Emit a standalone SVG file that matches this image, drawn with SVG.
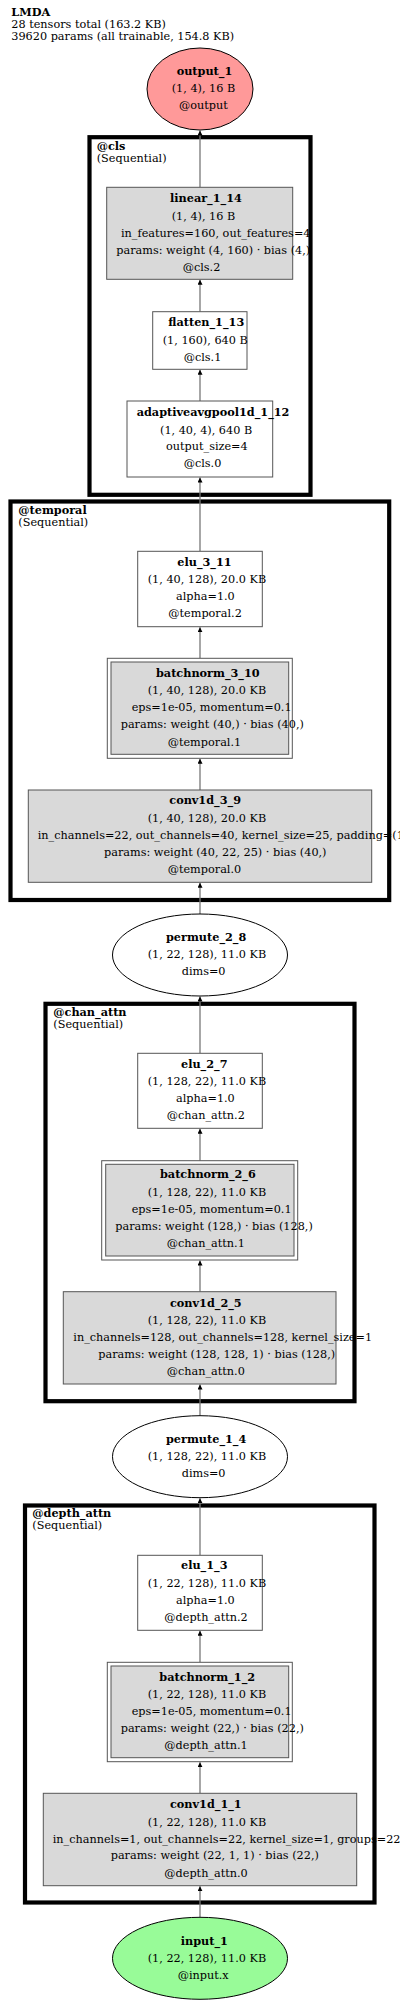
<svg xmlns="http://www.w3.org/2000/svg" width="400" height="2004" viewBox="0 0 400 2004">
<style>
text{font-family:"DejaVu Serif","Liberation Serif",serif;font-size:11.25px;fill:#000}
.b{font-weight:bold}
.w{fill:#fff;stroke:#555;stroke-width:1}
.g{fill:#d9d9d9;stroke:#555;stroke-width:1}
.c{fill:none;stroke:#000;stroke-width:4.2}
.e{stroke:#777;stroke-width:1.3;fill:none}
.el{stroke:#000;stroke-width:1}
</style>
<defs>
<marker id="ah" markerUnits="userSpaceOnUse" markerWidth="6" markerHeight="6" refX="5" refY="2.5" orient="auto"><path d="M0,0 L5,2.5 L0,5 z" fill="#000"/></marker>
</defs>
<rect width="400" height="2004" fill="#fff"/>
<g id="header">
<text class="b" x="11.3" y="16">LMDA</text>
<text x="11.3" y="28.3">28 tensors total (163.2 KB)</text>
<text x="11.3" y="40">39620 params (all trainable, 154.8 KB)</text>
</g>
<g id="clusters">
<g id="cluster_cls"><rect class="c" x="89.5" y="137.2" width="221" height="357.6"/><text class="b" x="96.7" y="150">@cls</text><text x="96.7" y="162.3">(Sequential)</text></g>
<g id="cluster_temporal"><rect class="c" x="10.5" y="501.5" width="378.7" height="398.5"/><text class="b" x="18.3" y="514">@temporal</text><text x="18.3" y="526">(Sequential)</text></g>
<g id="cluster_chan_attn"><rect class="c" x="45.5" y="1003.8" width="309" height="397.4"/><text class="b" x="53.3" y="1015.7">@chan_attn</text><text x="53.3" y="1027.7">(Sequential)</text></g>
<g id="cluster_depth_attn"><rect class="c" x="25" y="1505.5" width="349.5" height="397"/><text class="b" x="32.3" y="1516.7">@depth_attn</text><text x="32.3" y="1529.3">(Sequential)</text></g>
</g>
<g id="edges">
<line class="e" x1="200" y1="1917.3" x2="200" y2="1886.2" marker-end="url(#ah)"/>
<line class="e" x1="200" y1="1793.3" x2="200" y2="1762.2" marker-end="url(#ah)"/>
<line class="e" x1="200" y1="1662.3" x2="200" y2="1630.8" marker-end="url(#ah)"/>
<line class="e" x1="200" y1="1555.3" x2="200" y2="1498.2" marker-end="url(#ah)"/>
<line class="e" x1="200" y1="1415.7" x2="200" y2="1384.5" marker-end="url(#ah)"/>
<line class="e" x1="200" y1="1291.7" x2="200" y2="1260.5" marker-end="url(#ah)"/>
<line class="e" x1="200" y1="1160.7" x2="200" y2="1128.8" marker-end="url(#ah)"/>
<line class="e" x1="200" y1="1053.3" x2="200" y2="996.5" marker-end="url(#ah)"/>
<line class="e" x1="200" y1="914" x2="200" y2="882.8" marker-end="url(#ah)"/>
<line class="e" x1="200" y1="790" x2="200" y2="758.8" marker-end="url(#ah)"/>
<line class="e" x1="200" y1="658.3" x2="200" y2="627.2" marker-end="url(#ah)"/>
<line class="e" x1="200" y1="551.3" x2="200" y2="477.5" marker-end="url(#ah)"/>
<line class="e" x1="200" y1="401" x2="200" y2="369.8" marker-end="url(#ah)"/>
<line class="e" x1="200" y1="311.7" x2="200" y2="279.8" marker-end="url(#ah)"/>
<line class="e" x1="200" y1="187.3" x2="200" y2="130.5" marker-end="url(#ah)"/>
</g>
<g id="output_1">
<ellipse class="el" cx="200" cy="89" rx="53" ry="41" fill="#ff9999"/>
<text class="b" x="176.7" y="75">output_1</text>
<text x="171.7" y="92.3">(1, 4), 16 B</text>
<text x="179" y="109">@output</text>
</g>
<g id="linear_1_14">
<rect class="g" x="106.7" y="187.3" width="186" height="92"/>
<text class="b" x="170" y="202.3">linear_1_14</text>
<text x="171.7" y="220">(1, 4), 16 B</text>
<text x="121" y="236.7">in_features=160, out_features=4</text>
<text x="116.3" y="253.5">params: weight (4, 160) · bias (4,)</text>
<text x="182.7" y="270.7">@cls.2</text>
</g>
<g id="flatten_1_13">
<rect class="w" x="152.7" y="311.7" width="94.3" height="57.6"/>
<text class="b" x="168.3" y="326">flatten_1_13</text>
<text x="162.7" y="344">(1, 160), 640 B</text>
<text x="183.7" y="361.3">@cls.1</text>
</g>
<g id="adaptiveavgpool1d_1_12">
<rect class="w" x="127" y="401" width="145.7" height="76"/>
<text class="b" x="136.7" y="416">adaptiveavgpool1d_1_12</text>
<text x="160" y="433.7">(1, 40, 4), 640 B</text>
<text x="166" y="450.3">output_size=4</text>
<text x="183.7" y="467.3">@cls.0</text>
</g>
<g id="elu_3_11">
<rect class="w" x="137.7" y="551.3" width="124.6" height="75.4"/>
<text class="b" x="177.3" y="566">elu_3_11</text>
<text x="147.7" y="583.3">(1, 40, 128), 20.0 KB</text>
<text x="176" y="600">alpha=1.0</text>
<text x="168.3" y="617.3">@temporal.2</text>
</g>
<g id="batchnorm_3_10">
<rect class="w" x="107.3" y="658.3" width="185" height="100"/>
<rect class="g" x="111" y="662" width="177.7" height="92.3"/>
<text class="b" x="156" y="676.7">batchnorm_3_10</text>
<text x="147.7" y="694">(1, 40, 128), 20.0 KB</text>
<text x="131.7" y="711">eps=1e-05, momentum=0.1</text>
<text x="120.7" y="728.3">params: weight (40,) · bias (40,)</text>
<text x="167.7" y="745.7">@temporal.1</text>
</g>
<g id="conv1d_3_9">
<rect class="g" x="28.3" y="790" width="343.4" height="92.3"/>
<text class="b" x="169.3" y="804">conv1d_3_9</text>
<text x="147.7" y="821.7">(1, 40, 128), 20.0 KB</text>
<text x="37.7" y="838.7">in_channels=22, out_channels=40, kernel_size=25, padding=(12,)</text>
<text x="104" y="856">params: weight (40, 22, 25) · bias (40,)</text>
<text x="167.7" y="872.7">@temporal.0</text>
</g>
<g id="permute_2_8">
<ellipse class="el" cx="200" cy="955" rx="87.5" ry="41" fill="#fff"/>
<text class="b" x="166" y="940.7">permute_2_8</text>
<text x="147.7" y="958.3">(1, 22, 128), 11.0 KB</text>
<text x="181.7" y="975">dims=0</text>
</g>
<g id="elu_2_7">
<rect class="w" x="137.7" y="1053.3" width="124.6" height="75"/>
<text class="b" x="181" y="1067.7">elu_2_7</text>
<text x="147.7" y="1085">(1, 128, 22), 11.0 KB</text>
<text x="176" y="1101.7">alpha=1.0</text>
<text x="166.7" y="1119">@chan_attn.2</text>
</g>
<g id="batchnorm_2_6">
<rect class="w" x="101.7" y="1160.7" width="196" height="99.3"/>
<rect class="g" x="105.7" y="1164.3" width="188.3" height="91.7"/>
<text class="b" x="160" y="1178.3">batchnorm_2_6</text>
<text x="147.7" y="1195.7">(1, 128, 22), 11.0 KB</text>
<text x="131.7" y="1212.7">eps=1e-05, momentum=0.1</text>
<text x="115.3" y="1230">params: weight (128,) · bias (128,)</text>
<text x="166.7" y="1247.3">@chan_attn.1</text>
</g>
<g id="conv1d_2_5">
<rect class="g" x="63.3" y="1291.7" width="272.7" height="92.3"/>
<text class="b" x="170" y="1306.7">conv1d_2_5</text>
<text x="147.7" y="1324">(1, 128, 22), 11.0 KB</text>
<text x="73.3" y="1341">in_channels=128, out_channels=128, kernel_size=1</text>
<text x="98.3" y="1357.7">params: weight (128, 128, 1) · bias (128,)</text>
<text x="166.7" y="1374.7">@chan_attn.0</text>
</g>
<g id="permute_1_4">
<ellipse class="el" cx="200" cy="1456.7" rx="87.5" ry="41" fill="#fff"/>
<text class="b" x="166" y="1442.7">permute_1_4</text>
<text x="147.7" y="1460">(1, 128, 22), 11.0 KB</text>
<text x="181.7" y="1476.7">dims=0</text>
</g>
<g id="elu_1_3">
<rect class="w" x="137.7" y="1555.3" width="124.6" height="75"/>
<text class="b" x="181" y="1569.3">elu_1_3</text>
<text x="147.7" y="1586.7">(1, 22, 128), 11.0 KB</text>
<text x="176" y="1604">alpha=1.0</text>
<text x="164.3" y="1620.7">@depth_attn.2</text>
</g>
<g id="batchnorm_1_2">
<rect class="w" x="107.3" y="1662.3" width="185" height="99.4"/>
<rect class="g" x="111" y="1666" width="177.7" height="91.7"/>
<text class="b" x="159.3" y="1681">batchnorm_1_2</text>
<text x="147.7" y="1698.3">(1, 22, 128), 11.0 KB</text>
<text x="131.7" y="1715">eps=1e-05, momentum=0.1</text>
<text x="120.7" y="1731.7">params: weight (22,) · bias (22,)</text>
<text x="164.3" y="1749.3">@depth_attn.1</text>
</g>
<g id="conv1d_1_1">
<rect class="g" x="43.3" y="1793.3" width="313.4" height="92.4"/>
<text class="b" x="170" y="1808.3">conv1d_1_1</text>
<text x="147.7" y="1826">(1, 22, 128), 11.0 KB</text>
<text x="52.7" y="1842.7">in_channels=1, out_channels=22, kernel_size=1, groups=22</text>
<text x="110.7" y="1859.3">params: weight (22, 1, 1) · bias (22,)</text>
<text x="164.3" y="1876.7">@depth_attn.0</text>
</g>
<g id="input_1">
<ellipse class="el" cx="200" cy="1958.3" rx="87.5" ry="41" fill="#98fb98"/>
<text class="b" x="180.7" y="1945">input_1</text>
<text x="147.7" y="1962.3">(1, 22, 128), 11.0 KB</text>
<text x="177.7" y="1979.3">@input.x</text>
</g>
</svg>
